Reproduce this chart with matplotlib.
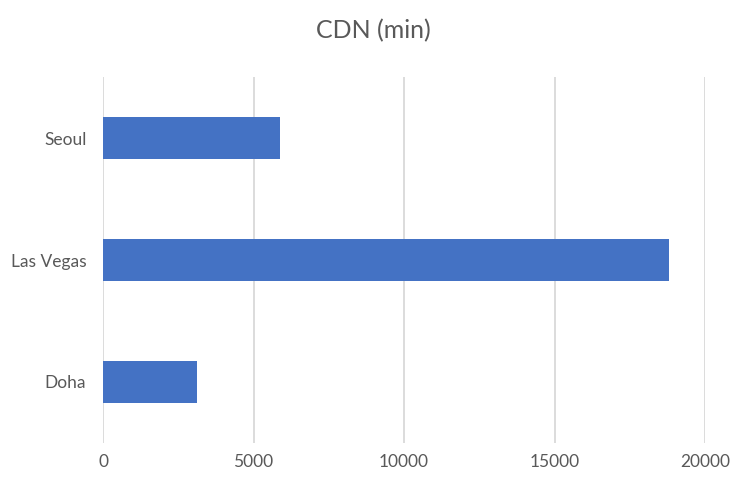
import matplotlib
matplotlib.use("Agg")
import matplotlib.pyplot as plt

plt.rcParams['font.family'] = ['Lato', 'DejaVu Sans']

# data
cities = ["Doha", "Las Vegas", "Seoul"]
cdn_min = [3120, 18800, 5880]
x_ticks = [0, 5000, 10000, 15000, 20000]

fig = plt.figure(figsize=(7.47, 4.82), dpi=100)
ax = fig.add_axes([0.1379, 0.081, 0.8059, 0.759])

ax.barh(range(len(cities)), cdn_min, height=0.35, color="#4472C4", zorder=3)

ax.set_xlim(0, 20000)
ax.set_ylim(-0.5, len(cities) - 0.5)
ax.set_xticks(x_ticks)
ax.set_yticks(range(len(cities)))
ax.set_yticklabels(cities)

ax.grid(axis="x", color="#D9D9D9", linewidth=1.3, zorder=0)
for s in ax.spines.values():
    s.set_visible(False)
ax.tick_params(length=0, labelsize=12.5, colors="#595959", pad=8)
ax.tick_params(axis="y", pad=12)

fig.suptitle("CDN (min)", x=0.5, y=0.96, fontsize=18, color="#595959")

fig.savefig("out.png", dpi=100)
